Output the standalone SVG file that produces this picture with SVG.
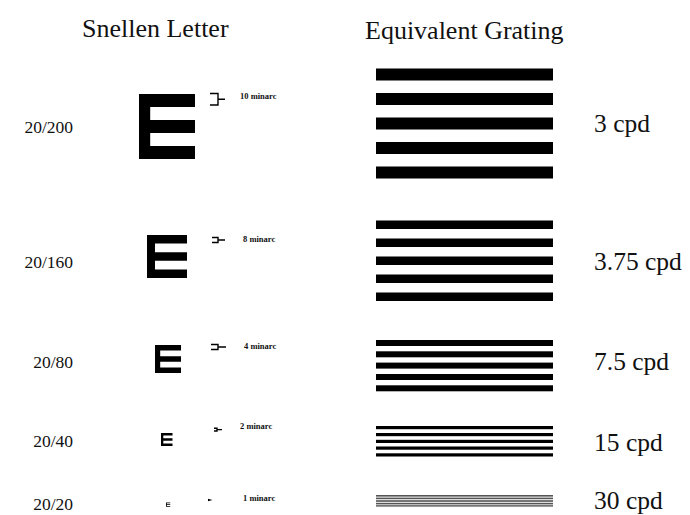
<svg xmlns="http://www.w3.org/2000/svg" width="690" height="515" viewBox="0 0 690 515">
<style>
.title{font-family:"Liberation Serif","Times New Roman",serif;font-size:26px;fill:#111}
.acuity{font-family:"Liberation Serif","Times New Roman",serif;font-size:17.5px;fill:#111;text-anchor:end}
.cpd{font-family:"Liberation Serif","Times New Roman",serif;font-size:25.5px;fill:#111}
.minarc{font-family:"Liberation Serif","Times New Roman",serif;font-size:8.5px;font-weight:bold;fill:#111}
.bar{fill:#000}
.thin{fill:#555}
.brk{fill:none;stroke:#000;stroke-width:1.4}
</style>
<defs>
<path id="E" d="M0,0 H5 V1 H1 V2 H5 V3 H1 V4 H5 V5 H0 Z" fill="#000"/>
</defs>
<rect width="690" height="515" fill="#fff"/>
<text class="title" x="82" y="36.5">Snellen Letter</text>
<text class="title" x="365" y="38.5">Equivalent Grating</text>

<g id="row-20-200">
<text class="acuity" x="73" y="133">20/200</text>
<use href="#E" transform="translate(139,94) scale(11.2,13)"/>
<path class="brk" d="M210,93.5 H218 V105 H210 M218,99.2 H225"/>
<text class="minarc" x="240" y="99">10 minarc</text>
<g id="grating-3">
<rect class="bar" x="376" y="68.5" width="177" height="12"/>
<rect class="bar" x="376" y="93" width="177" height="12"/>
<rect class="bar" x="376" y="117.5" width="177" height="12"/>
<rect class="bar" x="376" y="142" width="177" height="12"/>
<rect class="bar" x="376" y="166.5" width="177" height="12"/>
</g>
<text class="cpd" x="594" y="132">3 cpd</text>
</g>

<g id="row-20-160">
<text class="acuity" x="73" y="268">20/160</text>
<use href="#E" transform="translate(147,235) scale(8,8.6)"/>
<path class="brk" d="M212,237.5 H218 V242.5 H212 M218,240 H225"/>
<text class="minarc" x="243" y="242">8 minarc</text>
<g id="grating-3-75">
<rect class="bar" x="376" y="220.5" width="177" height="8.5"/>
<rect class="bar" x="376" y="238.5" width="177" height="8.5"/>
<rect class="bar" x="376" y="256.5" width="177" height="8.5"/>
<rect class="bar" x="376" y="274.5" width="177" height="8.5"/>
<rect class="bar" x="376" y="292.5" width="177" height="8.5"/>
</g>
<text class="cpd" x="594" y="270">3.75 cpd</text>
</g>

<g id="row-20-80">
<text class="acuity" x="73" y="368">20/80</text>
<use href="#E" transform="translate(155,345) scale(5.2,5.6)"/>
<path class="brk" d="M211,344.5 H218 V349.5 H211 M218,347 H226"/>
<text class="minarc" x="244" y="348.5">4 minarc</text>
<g id="grating-7-5">
<rect class="bar" x="376" y="340" width="177" height="6"/>
<rect class="bar" x="376" y="351.3" width="177" height="6"/>
<rect class="bar" x="376" y="362.6" width="177" height="6"/>
<rect class="bar" x="376" y="374" width="177" height="6"/>
<rect class="bar" x="376" y="385.3" width="177" height="6"/>
</g>
<text class="cpd" x="594" y="370">7.5 cpd</text>
</g>

<g id="row-20-40">
<text class="acuity" x="73" y="447">20/40</text>
<use href="#E" transform="translate(161,433) scale(2.3,2.6)"/>
<path class="brk" d="M214,428.3 H217 V431 H214 M217,429.6 H222" stroke-width="1.1"/>
<text class="minarc" x="240" y="428.5">2 minarc</text>
<g id="grating-15">
<rect class="bar" x="376" y="426" width="177" height="3.2"/>
<rect class="bar" x="376" y="433" width="177" height="3.2"/>
<rect class="bar" x="376" y="439.8" width="177" height="3.2"/>
<rect class="bar" x="376" y="446.5" width="177" height="3.2"/>
<rect class="bar" x="376" y="453.3" width="177" height="3.2"/>
</g>
<text class="cpd" x="594" y="451">15 cpd</text>
</g>

<g id="row-20-20">
<text class="acuity" x="73" y="510">20/20</text>
<use href="#E" transform="translate(166,502.5) scale(0.85,0.85)"/>
<path d="M208,498.8 L212.5,500 L208,501.2 Z" fill="#000"/>
<text class="minarc" x="243" y="501">1 minarc</text>
<g id="grating-30">
<rect class="thin" x="376" y="495" width="177" height="1.6"/>
<rect class="thin" x="376" y="497.6" width="177" height="1.6"/>
<rect class="thin" x="376" y="500.2" width="177" height="1.6"/>
<rect class="thin" x="376" y="502.8" width="177" height="1.6"/>
<rect class="thin" x="376" y="505.2" width="177" height="1.4"/>
</g>
<text class="cpd" x="594" y="508.5">30 cpd</text>
</g>
</svg>
